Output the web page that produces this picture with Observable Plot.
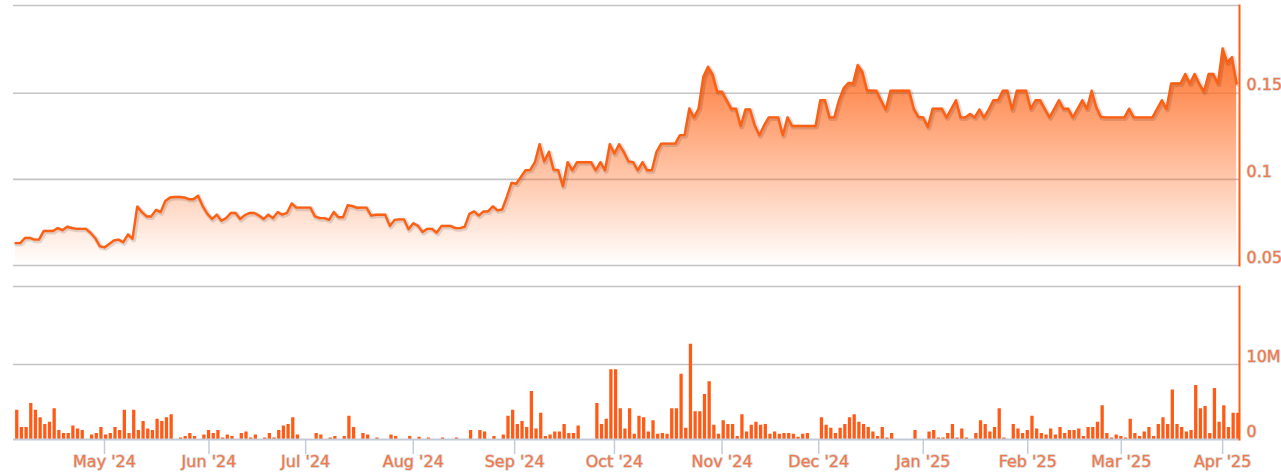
<!DOCTYPE html>
<html><head><meta charset="utf-8">
<script src="https://cdn.jsdelivr.net/npm/d3@7"></script>
<script src="https://cdn.jsdelivr.net/npm/@observablehq/plot@0.6"></script>
<style>
html,body{margin:0;padding:0;background:#fff;}
#chart svg{display:block;}
</style></head><body><div id="chart"></div>
<script>
// ---- data ----
const startDate = "2024-04-04"; // first trading slot (weekdays only)
const price = [
0.063,0.063,0.066,0.066,0.065,0.065,0.070,0.070,0.070,0.0717,
0.0705,0.0725,0.0718,0.0713,0.0713,0.0713,0.069,0.066,0.0612,0.0605,
0.0625,0.0645,0.065,0.0635,0.068,0.0655,0.0842,0.081,0.0785,0.0785,
0.0823,0.081,0.0875,0.0895,0.0898,0.0898,0.0895,0.0885,0.0885,0.0905,
0.0845,0.080,0.077,0.0795,0.076,0.0775,0.0805,0.0805,0.077,0.0793,
0.0805,0.0805,0.079,0.077,0.0795,0.0775,0.081,0.0795,0.0805,0.086,
0.0836,0.0836,0.0836,0.0836,0.0785,0.0775,0.0775,0.0765,0.081,0.078,
0.078,0.085,0.0845,0.0835,0.0836,0.0836,0.079,0.0795,0.0795,0.0795,
0.073,0.0765,0.0768,0.0768,0.071,0.0745,0.073,0.0694,0.0713,0.0713,
0.069,0.0729,0.0729,0.0729,0.0717,0.0717,0.0725,0.080,0.0814,0.079,
0.0814,0.0814,0.0843,0.082,0.0825,0.0898,0.098,0.0975,0.1014,0.1053,
0.1055,0.110,0.1204,0.1105,0.116,0.1057,0.1053,0.096,0.110,0.1053,
0.110,0.110,0.110,0.110,0.1053,0.110,0.1053,0.1204,0.115,0.1204,
0.116,0.1105,0.110,0.1053,0.110,0.1053,0.1053,0.116,0.1208,0.1208,
0.1208,0.1208,0.1257,0.1257,0.1412,0.136,0.1412,0.1596,0.1654,0.161,
0.1509,0.1509,0.146,0.141,0.141,0.131,0.1406,0.1406,0.1315,0.1257,
0.1315,0.136,0.136,0.136,0.1257,0.136,0.131,0.131,0.131,0.131,
0.131,0.131,0.146,0.146,0.136,0.136,0.146,0.153,0.156,0.1557,
0.1664,0.1625,0.1518,0.1515,0.1515,0.146,0.1406,0.1515,0.1515,0.1515,
0.1515,0.1515,0.141,0.1363,0.136,0.1305,0.141,0.141,0.141,0.136,
0.141,0.146,0.136,0.136,0.138,0.136,0.1406,0.136,0.1406,0.146,
0.146,0.1515,0.1515,0.1406,0.1515,0.1515,0.1515,0.141,0.146,0.146,
0.141,0.136,0.141,0.146,0.141,0.141,0.136,0.141,0.146,0.141,
0.1515,0.142,0.1363,0.136,0.136,0.136,0.136,0.136,0.141,0.136,
0.136,0.136,0.136,0.136,0.141,0.146,0.141,0.1557,0.1557,0.1557,
0.1612,0.1557,0.1612,0.1557,0.151,0.1612,0.1612,0.1557,0.176,0.168,
0.171,0.1557
];
const volumeM = [
3.9,1.6,1.6,4.8,3.9,2.9,2.0,2.3,4.1,1.2,
0.8,0.8,1.8,1.4,1.2,0,0.6,0.8,1.6,0.6,
0.8,1.6,1.2,3.9,0.8,3.9,1.2,2.4,1.4,1.2,
2.7,2.4,2.9,3.3,0,0.2,0.4,0.8,0.4,0,
0.6,1.2,0.8,1.2,0.2,0.6,0.4,0,0.8,1.0,
0.2,0.6,0,0.2,0.8,0.2,1.2,1.8,2.0,2.9,
0.6,0,0,0,0.8,0.6,0,0.2,0.4,0,
0.4,3.1,1.6,0,0.8,0.6,0,0.2,0,0,
0.6,0.4,0,0,0.4,0,0.3,0,0.2,0,
0,0.2,0,0,0.2,0,0,1.2,0,1.2,
1.0,0,0.4,0,0.6,3.1,3.9,2.0,2.4,1.6,
6.4,1.4,3.5,0.4,0.6,1.0,1.0,2.0,0.8,0.8,
1.8,0,0,0,4.8,2.0,2.7,9.3,9.3,4.1,
1.4,4.1,0.7,3.1,2.9,1.0,2.5,0.7,0.8,0.7,
4.1,4.1,8.7,1.5,12.7,3.7,3.7,6.0,7.7,1.9,
0.7,2.5,2.0,2.0,0.4,3.3,1.0,1.9,2.3,1.9,
2.0,0.7,1.0,0.7,0.8,0.8,0.7,0.3,0.7,0.8,
0,0,2.9,1.9,1.5,0.8,1.5,2.0,2.9,3.3,
2.3,2.0,1.6,1.0,0.4,1.6,0.2,0.8,0,0,
0,0,1.2,0,0,1.0,1.2,0.2,0.2,0.8,
2.0,0.2,1.4,0.2,0,0.8,2.5,2.0,1.0,1.6,
4.1,0.2,0,2.0,1.4,0.8,1.2,3.1,1.4,0.8,
0.6,1.4,0.6,1.6,0.8,1.2,1.2,1.4,0.4,1.6,
1.6,2.3,4.5,0.8,0.2,0.6,0.4,0.2,2.7,0.8,
0.4,1.0,1.6,0.4,2.0,2.9,2.0,6.6,2.0,1.6,
1.0,1.2,7.2,4.1,4.4,0.8,6.8,2.3,4.5,1.6,
3.5,3.5
];
const monthLabels = ["May '24","Jun '24","Jul '24","Aug '24","Sep '24","Oct '24","Nov '24","Dec '24","Jan '25","Feb '25","Mar '25","Apr '25"];
const monthStarts = ["2024-05-01","2024-06-01","2024-07-01","2024-08-01","2024-09-01","2024-10-01","2024-11-01","2024-12-01","2025-01-01","2025-02-01","2025-03-01","2025-04-01"];
const priceTicks = [0.05, 0.1, 0.15];
const priceTop = 0.201;
const volumeTicks = [0, 10e6];
const volumeTop = 20.4e6;

// ---- styles ----
const ORANGE = "#ff5f10";
const BAR = "#ff5b17";
const LABEL = "#f47745";
const OUTLINE = "#d2d2d2";
const GRID = "#c4c4c4";
const AXIS = "#c3cbd9";
const FONT = "DejaVu Sans, Verdana, sans-serif";
const FS = 16;

// ---- trading-day slots (ordinal axis) ----
const dates = [];
let cur = new Date(startDate + "T00:00:00Z");
while (dates.length < price.length) {
  const wd = cur.getUTCDay();
  if (wd !== 0 && wd !== 6) dates.push(new Date(cur));
  cur = new Date(cur.getTime() + 864e5);
}
const data = price.map((p, i) => ({i, date: dates[i], price: p, volume: volumeM[i] * 1e6}));
function slotOf(s) {
  const t = new Date(s + "T00:00:00Z").getTime();
  for (let k = 0; k < dates.length - 1; k++) {
    const a = dates[k].getTime(), b = dates[k + 1].getTime();
    if (t >= a && t < b) return k + (t - a) / (b - a);
  }
  return dates.length - 1;
}
const tickPos = monthStarts.map(slotOf);
const labelAt = new Map(tickPos.map((p, k) => [p, monthLabels[k]]));
const xDomain = [-0.45, price.length - 0.4];

const W = 1281;
const ML = 13, MR = 42;

// gradient defs as a render mark
function gradientDefs(index, scales) {
  const ns = "http://www.w3.org/2000/svg";
  const defs = document.createElementNS(ns, "defs");
  const g = document.createElementNS(ns, "linearGradient");
  g.setAttribute("id", "areaGrad");
  g.setAttribute("gradientUnits", "userSpaceOnUse");
  g.setAttribute("x1", 0); g.setAttribute("x2", 0);
  g.setAttribute("y1", scales.y(0.178));
  g.setAttribute("y2", scales.y(0.05));
  [[0, 0.95], [1, 0.0]].forEach(([o, a]) => {
    const s = document.createElementNS(ns, "stop");
    s.setAttribute("offset", o);
    s.setAttribute("stop-color", "#ff6a20");
    s.setAttribute("stop-opacity", a);
    g.appendChild(s);
  });
  defs.appendChild(g);
  return defs;
}

const topChart = Plot.plot({
  width: W, height: 270,
  marginLeft: ML, marginRight: MR, marginTop: 5, marginBottom: 5,
  style: {fontFamily: FONT, background: "#fff", overflow: "visible"},
  x: {domain: xDomain, axis: null},
  y: {domain: [0.05, priceTop], axis: null},
  marks: [
    gradientDefs,
    Plot.ruleY([0.05, 0.1, 0.15, priceTop], {stroke: GRID, strokeWidth: 1.6}),
    Plot.areaY(data, {x: "i", y1: 0.05, y2: "price", fill: "url(#areaGrad)"}),
    Plot.lineY(data, {x: "i", y: "price", stroke: "#000", strokeOpacity: 0.12, strokeWidth: 5, dx: 1, dy: 1}),
    Plot.lineY(data, {x: "i", y: "price", stroke: ORANGE, strokeWidth: 2.4}),
    Plot.frame({anchor: "right", stroke: ORANGE, strokeWidth: 2}),
    Plot.text(priceTicks, {x: xDomain[1], y: d => d, text: d => String(d), textAnchor: "start",
      dx: 7, dy: -8, fill: LABEL, stroke: OUTLINE, strokeWidth: 1.5, paintOrder: "stroke", fontSize: FS})
  ]
});

const bottomChart = Plot.plot({
  width: W, height: 206,
  marginLeft: ML, marginRight: MR, marginTop: 16, marginBottom: 37,
  style: {fontFamily: FONT, background: "#fff", overflow: "visible"},
  x: {domain: xDomain, axis: null},
  y: {domain: [0, volumeTop], axis: null},
  marks: [
    Plot.ruleY([10e6, volumeTop], {stroke: GRID, strokeWidth: 1.6}),
    Plot.rectY(data, {x: "i", interval: 1, y: "volume", fill: BAR, insetRight: 1.4}),
    Plot.ruleY([0], {stroke: AXIS, strokeWidth: 2}),
    Plot.frame({anchor: "right", stroke: ORANGE, strokeWidth: 2}),
    Plot.axisX({ticks: tickPos, tickFormat: d => labelAt.get(d), tickSize: 15, tickPadding: 1, label: null,
      stroke: AXIS, strokeWidth: 1.5, fill: LABEL, fontSize: FS, textStroke: OUTLINE, textStrokeWidth: 1.5}),
    Plot.text(volumeTicks, {x: xDomain[1], y: d => d, text: d => d === 0 ? "0" : (d / 1e6) + "M", textAnchor: "start",
      dx: 7, dy: -8, fill: LABEL, stroke: OUTLINE, strokeWidth: 1.5, paintOrder: "stroke", fontSize: FS})
  ]
});

const root = document.getElementById("chart");
root.appendChild(topChart);
root.appendChild(bottomChart);
</script>
</body></html>
